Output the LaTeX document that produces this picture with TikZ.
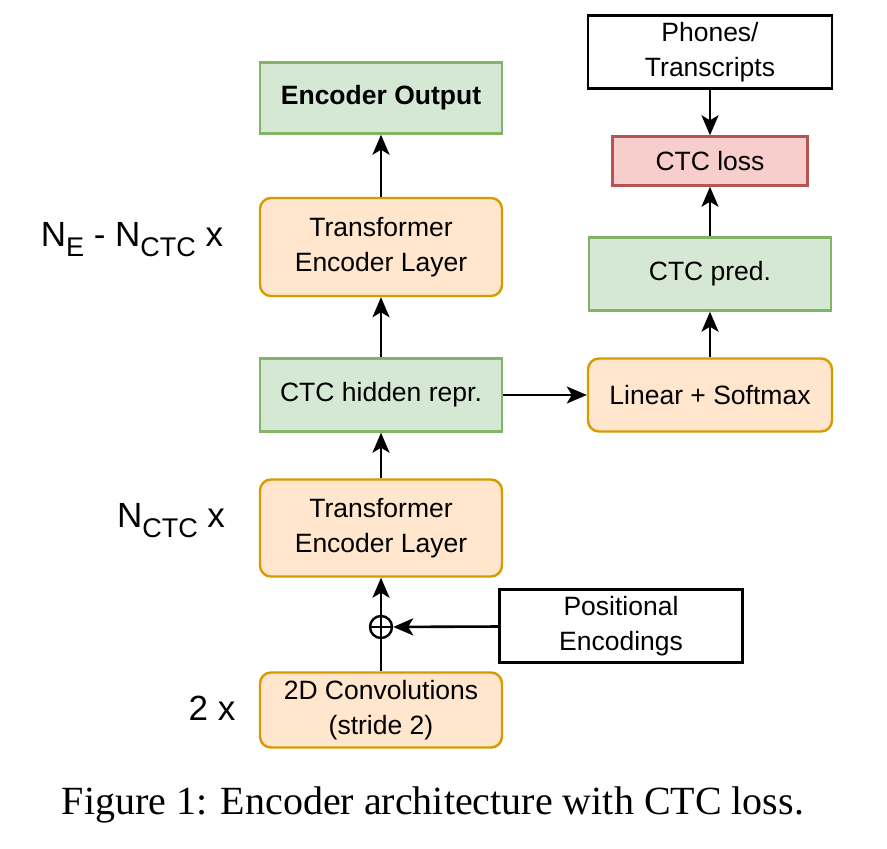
\documentclass[tikz,border=0pt]{standalone}
\usepackage{fontspec}
\setmainfont{Liberation Sans}
\newfontfamily\capfont{Liberation Serif}
\usetikzlibrary{arrows.meta}
\newcommand{\lowsub}[1]{\raisebox{-10pt}{\fontsize{27}{27}\selectfont #1}}
\tikzset{
  blk/.style = {draw, line width=2.4pt, minimum width=242pt, minimum height=73pt, inner sep=0pt, align=center, font=\fontsize{26.5}{35}\selectfont},
  orng/.style = {blk, draw=orngline, fill=orngfill, rounded corners=11pt},
  grn/.style = {blk, draw=grnline, fill=grnfill},
  arr/.style = {line width=2.6pt, -{Stealth[length=20pt, width=17pt, inset=5pt]}}
}
\begin{document}
\begin{tikzpicture}[x=1pt, y=-1pt]
\definecolor{orngline}{HTML}{D79B00}
\definecolor{orngfill}{HTML}{FFE6CC}
\definecolor{grnline}{HTML}{82B366}
\definecolor{grnfill}{HTML}{D5E8D4}
\definecolor{redline}{HTML}{B85450}
\definecolor{redfill}{HTML}{F8CECC}
\useasboundingbox (0,0) rectangle (887,849);
% encoder column
\node[grn, minimum height=71pt] (out) at (381,98) {\textbf{Encoder Output}};
\node[orng, minimum height=98pt] (tel2) at (381,247) {Transformer\\Encoder Layer};
\node[grn] (hid) at (381,395) {CTC hidden repr.};
\node[orng, minimum height=97pt] (tel1) at (381,528) {Transformer\\Encoder Layer};
\node[draw, line width=2.4pt, circle, minimum size=22pt, inner sep=0pt] (plus) at (381,627) {};
\draw[line width=2.4pt] (plus.north) -- (plus.south) (plus.west) -- (plus.east);
\node[orng, minimum height=75pt] (conv) at (381,710) {2D Convolutions\\(stride 2)};
\node[blk, minimum width=243pt] (pos) at (621,626) {Positional\\Encodings};
% CTC branch
\node[orng, minimum width=244pt] (lin) at (710,395) {Linear + Softmax};
\node[grn] (pred) at (710,274) {CTC pred.};
\node[blk, draw=redline, fill=redfill, minimum width=195pt, minimum height=49pt] (loss) at (710,161) {CTC loss};
\node[blk, minimum width=244pt] (phon) at (710,52) {Phones/\\Transcripts};
% repeat labels
\node[font=\fontsize{35}{35}\selectfont] (lbl2) at (132,240) {N\lowsub{E} - N\lowsub{CTC} x};
\node[font=\fontsize{35}{35}\selectfont] (lbl1) at (171,521) {N\lowsub{CTC} x};
\node[font=\fontsize{35}{35}\selectfont] (lbl0) at (212,708) {2 x};
% connectors
\draw[line width=2.6pt] (conv) -- (plus);
\draw[arr] (plus) -- (tel1);
\draw[arr] (pos) -- (plus);
\draw[arr] (tel1) -- (hid);
\draw[arr] (hid) -- (tel2);
\draw[arr] (tel2) -- (out);
\draw[arr] (hid) -- (lin);
\draw[arr] (lin) -- (pred);
\draw[arr] (pred) -- (loss);
\draw[arr] (phon) -- (loss);
% caption
\node[font=\capfont\fontsize{40}{40}\selectfont] (cap) at (433,805) {Figure 1: Encoder architecture with CTC loss.};
\end{tikzpicture}
\end{document}
